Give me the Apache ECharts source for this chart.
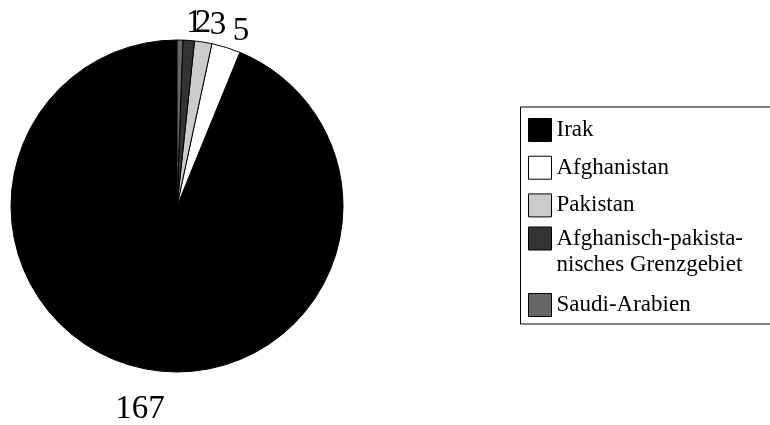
<!DOCTYPE html>
<html>
<head>
<meta charset="utf-8">
<script src="https://cdn.jsdelivr.net/npm/echarts@6/dist/echarts.min.js"></script>
<style>html,body{margin:0;padding:0;background:#fff}#c{width:770px;height:425px}</style>
</head>
<body>
<div id="c"></div>
<script>
const categories = ['Irak', 'Afghanistan', 'Pakistan', 'Afghanisch-pakistanisches Grenzgebiet', 'Saudi-Arabien'];
const values = [167, 5, 3, 2, 1];
const colors = ['#000000', '#ffffff', '#cccccc', '#333333', '#666666'];
const legendLabels = ['Irak', 'Afghanistan', 'Pakistan', ' \nAfghanisch-pakista-\nnisches Grenzgebiet', 'Saudi-Arabien'];
// horizontal nudges of the value labels (label padding)
const labelPads = [[0, 0, 0, 6], [0, 0, 0, 20], [0, 0, 0, 24], [0, 0, 0, 26], [0, 0, 0, 28]];

const FONT = '"Liberation Serif", "Times New Roman", serif';
const chart = echarts.init(document.getElementById('c'), null, {renderer: 'canvas'});

const mainData = categories.map((n, i) => ({name: n, value: values[i], itemStyle: {color: colors[i]}}));
function ghostData(showFn) {
  return categories.map((n, i) => ({
    name: n, value: values[i],
    label: {show: showFn(i), padding: labelPads[i]}
  }));
}

function legendFor(names, top, lh) {
  return {
    data: names,
    orient: 'vertical',
    left: 528,
    top: top,
    padding: 0,
    itemGap: 13.7,
    itemWidth: 23,
    itemHeight: 23,
    icon: 'rect',
    selectedMode: false,
    itemStyle: {borderColor: '#000', borderWidth: 1},
    textStyle: {fontFamily: FONT, fontSize: 23, color: '#000', lineHeight: lh},
    formatter: name => legendLabels[categories.indexOf(name)]
  };
}

const ghostBase = {
  type: 'pie',
  center: [177, 206],
  startAngle: 90,
  clockwise: false,
  silent: true,
  avoidLabelOverlap: false,
  labelLayout: {hideOverlap: false, moveOverlap: false},
  emphasis: {disabled: true},
  itemStyle: {color: 'rgba(0,0,0,0)', borderWidth: 0},
  label: {position: 'inside', fontFamily: FONT, fontSize: 33, color: '#000', formatter: '{c}'},
  labelLine: {show: false}
};

chart.setOption({
  animation: false,
  backgroundColor: '#fff',
  legend: [
    legendFor(categories.slice(0, 3), 118, 23),
    legendFor([categories[3]], 199.5, 26),
    legendFor([categories[4]], 293, 23)
  ],
  graphic: [{
    type: 'rect',
    shape: {x: 520.5, y: 107, width: 260, height: 217},
    style: {fill: 'none', stroke: '#000', lineWidth: 1}
  }],
  series: [
    {
      type: 'pie',
      center: [177, 206],
      radius: [0, 166],
      startAngle: 90,
      clockwise: false,
      label: {show: false},
      labelLine: {show: false},
      emphasis: {disabled: true},
      itemStyle: {borderColor: '#000', borderWidth: 1},
      data: mainData
    },
    Object.assign({}, ghostBase, {radius: [166, 242], data: ghostData(i => i === 0)}),
    Object.assign({}, ghostBase, {radius: [166, 194], data: ghostData(i => i !== 0)})
  ]
});
</script>
</body>
</html>
